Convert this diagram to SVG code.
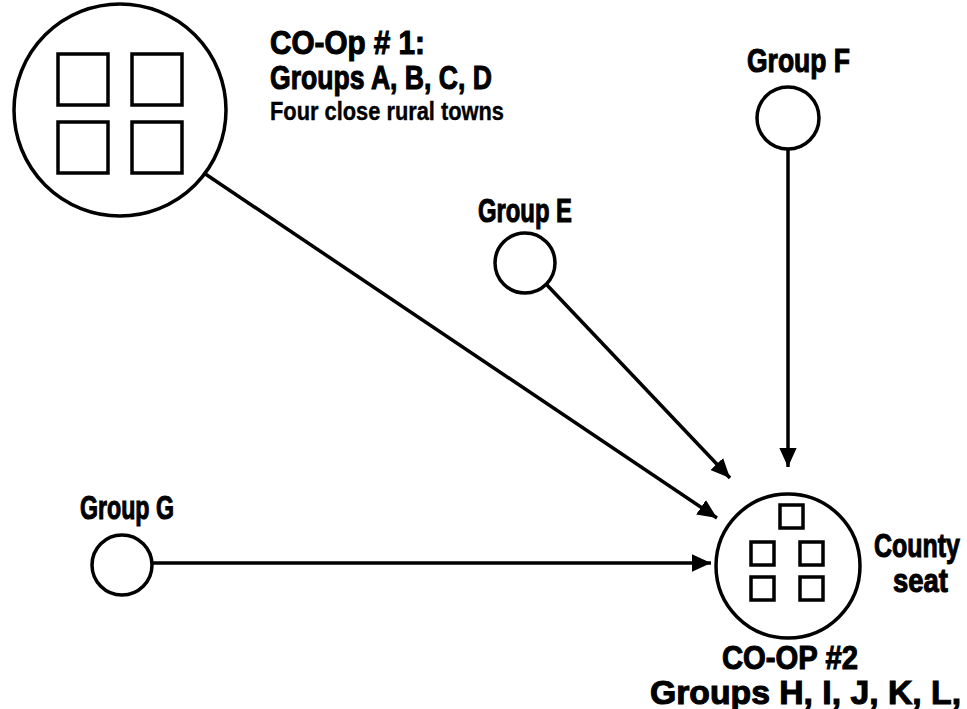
<svg xmlns="http://www.w3.org/2000/svg" width="967" height="709" viewBox="0 0 967 709">
<style>
.ln{stroke:#000;stroke-width:3.5;fill:none}
.nd{stroke:#000;stroke-width:3.5;fill:#fff}
.sq{stroke:#000;stroke-width:3.5;fill:#fff}
.t{font-family:"Liberation Sans Narrow","Liberation Sans",Arial,sans-serif;font-weight:bold;font-size:34px;fill:#000;stroke:#000;stroke-width:1.1}
.s{font-family:"Liberation Sans Narrow","Liberation Sans",Arial,sans-serif;font-weight:bold;font-size:26px;fill:#000;stroke:#000;stroke-width:0.4}
</style>
<defs>
<marker id="ah" markerWidth="5.5" markerHeight="5" refX="5.5" refY="2.5" orient="auto" markerUnits="strokeWidth">
<path d="M0,0 L5.5,2.5 L0,5 Z" fill="#000"/>
</marker>
</defs>
<g id="connectors">
<line class="ln" x1="195" y1="167" x2="717" y2="518" marker-end="url(#ah)"/>
<line class="ln" x1="547" y1="285" x2="730" y2="478" marker-end="url(#ah)"/>
<line class="ln" x1="788" y1="149" x2="788" y2="467" marker-end="url(#ah)"/>
<line class="ln" x1="152" y1="563" x2="711" y2="563" marker-end="url(#ah)"/>
</g>
<g id="coop1">
<circle class="nd" cx="120" cy="110" r="106"/>
<rect class="sq" x="58" y="54" width="50" height="51"/>
<rect class="sq" x="132" y="54" width="50" height="51"/>
<rect class="sq" x="58" y="122" width="50" height="51"/>
<rect class="sq" x="132" y="122" width="50" height="51"/>
<text class="t" x="270" y="54" textLength="155" lengthAdjust="spacingAndGlyphs">CO-Op # 1:</text>
<text class="t" x="270" y="89" textLength="222" lengthAdjust="spacingAndGlyphs">Groups A, B, C, D</text>
<text class="s" x="270" y="120" textLength="234" lengthAdjust="spacingAndGlyphs">Four close rural towns</text>
</g>
<g id="groupF">
<circle class="nd" cx="788" cy="118" r="31"/>
<text class="t" x="747" y="72" textLength="103" lengthAdjust="spacingAndGlyphs">Group F</text>
</g>
<g id="groupE">
<circle class="nd" cx="525" cy="263" r="30"/>
<text class="t" x="478" y="222" textLength="94" lengthAdjust="spacingAndGlyphs">Group E</text>
</g>
<g id="groupG">
<circle class="nd" cx="122" cy="565" r="30"/>
<text class="t" x="80" y="519" textLength="94" lengthAdjust="spacingAndGlyphs">Group G</text>
</g>
<g id="coop2">
<circle class="nd" cx="788" cy="566" r="72"/>
<rect class="sq" x="780" y="505" width="23" height="23"/>
<rect class="sq" x="751" y="542" width="23" height="23"/>
<rect class="sq" x="800" y="542" width="23" height="23"/>
<rect class="sq" x="751" y="577" width="23" height="23"/>
<rect class="sq" x="800" y="577" width="23" height="23"/>
<text class="t" x="874" y="557" textLength="86" lengthAdjust="spacingAndGlyphs">County</text>
<text class="t" x="893" y="592" textLength="55" lengthAdjust="spacingAndGlyphs">seat</text>
<text class="t" x="722" y="669" textLength="136" lengthAdjust="spacingAndGlyphs">CO-OP #2</text>
<text class="t" x="650" y="704" textLength="311" lengthAdjust="spacingAndGlyphs">Groups H, I, J, K, L,</text>
</g>
</svg>
